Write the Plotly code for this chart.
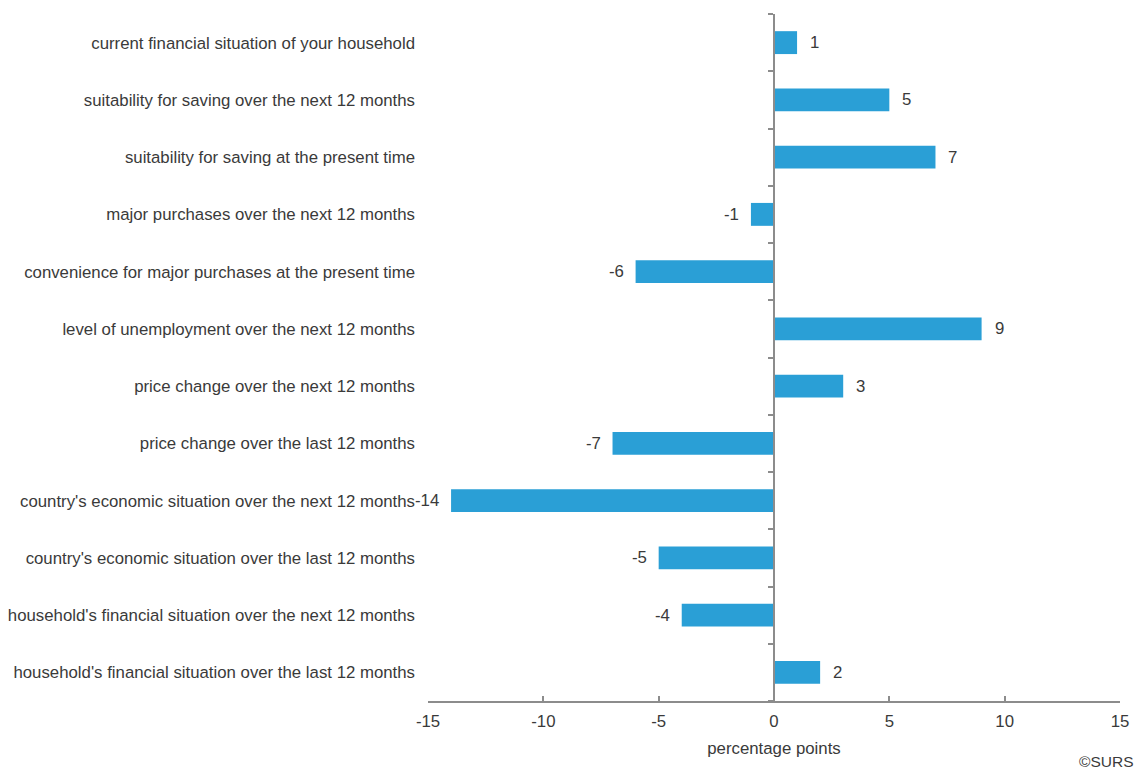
import plotly.graph_objects as go

categories = [
    "current financial situation of your household",
    "suitability for saving over the next 12 months",
    "suitability for saving at the present time",
    "major purchases over the next 12 months",
    "convenience for major purchases at the present time",
    "level of unemployment over the next 12 months",
    "price change over the next 12 months",
    "price change over the last 12 months",
    "country's economic situation over the next 12 months",
    "country's economic situation over the last 12 months",
    "household's financial situation over the next 12 months",
    "household's financial situation over the last 12 months",
]
values = [1, 5, 7, -1, -6, 9, 3, -7, -14, -5, -4, 2]
x_ticks = [-15, -10, -5, 0, 5, 10, 15]

BAR = "#2A9FD6"
AXIS = "#8c8c8c"
TEXT = "#3a3a3a"
FONT = "Liberation Sans, Arial, sans-serif"
FS = 16.8

n = len(categories)
fig = go.Figure()
fig.add_trace(go.Bar(
    x=values, y=categories, orientation="h",
    marker=dict(color=BAR, line=dict(width=0)),
    width=0.4, hoverinfo="skip", showlegend=False,
))
# invisible trace for the centred category axis
fig.add_trace(go.Scatter(
    x=[0], y=[0], yaxis="y2", mode="markers",
    marker=dict(opacity=0), showlegend=False, hoverinfo="skip",
))

for c, v in zip(categories, values):
    fig.add_annotation(
        x=v, y=c, xref="x", yref="y", text=str(v), showarrow=False,
        xanchor="left" if v >= 0 else "right",
        xshift=11 if v >= 0 else -10,
        font=dict(family=FONT, size=FS, color=TEXT),
    )

fig.add_annotation(
    x=1, y=0, xref="paper", yref="paper", yshift=-60, xshift=15,
    text="©SURS", showarrow=False, xanchor="right", yanchor="middle",
    borderpad=0,
    font=dict(family=FONT, size=15.5, color=TEXT),
)

fig.update_layout(
    width=1137, height=769,
    margin=dict(l=428, r=17, t=14, b=68, autoexpand=False),
    paper_bgcolor="white", plot_bgcolor="white",
    font=dict(family=FONT, size=FS, color=TEXT),
    xaxis=dict(
        range=[-15, 15], tickvals=x_ticks, ticktext=[str(t) for t in x_ticks],
        showgrid=False, zeroline=False,
        showline=True, linecolor=AXIS, linewidth=1.5,
        ticks="inside", ticklen=5, tickcolor=AXIS, tickwidth=1.5,
        ticklabelstandoff=4,
        title=dict(text="percentage points", standoff=12,
                   font=dict(family=FONT, size=FS, color=TEXT)),
        tickfont=dict(family=FONT, size=FS, color=TEXT),
    ),
    yaxis=dict(
        categoryorder="array", categoryarray=categories[::-1],
        range=[-0.5, n - 0.5], autorange=False,
        showgrid=False, zeroline=False, showline=False, ticks="",
        ticklabelstandoff=12,
        tickfont=dict(family=FONT, size=FS, color=TEXT),
    ),
    yaxis2=dict(
        overlaying="y", anchor="free", position=0.5, side="left",
        range=[-0.5, n - 0.5], autorange=False,
        tickvals=[i - 0.5 for i in range(n + 1)],
        showticklabels=False, showgrid=False, zeroline=False,
        showline=True, linecolor=AXIS, linewidth=1.5,
        ticks="outside", ticklen=5, tickcolor=AXIS, tickwidth=1.5,
    ),
)

fig.write_html(
    "out.html",
    config={"displayModeBar": False},
    post_script="document.body.style.margin='0';document.body.style.overflow='hidden';",
)
